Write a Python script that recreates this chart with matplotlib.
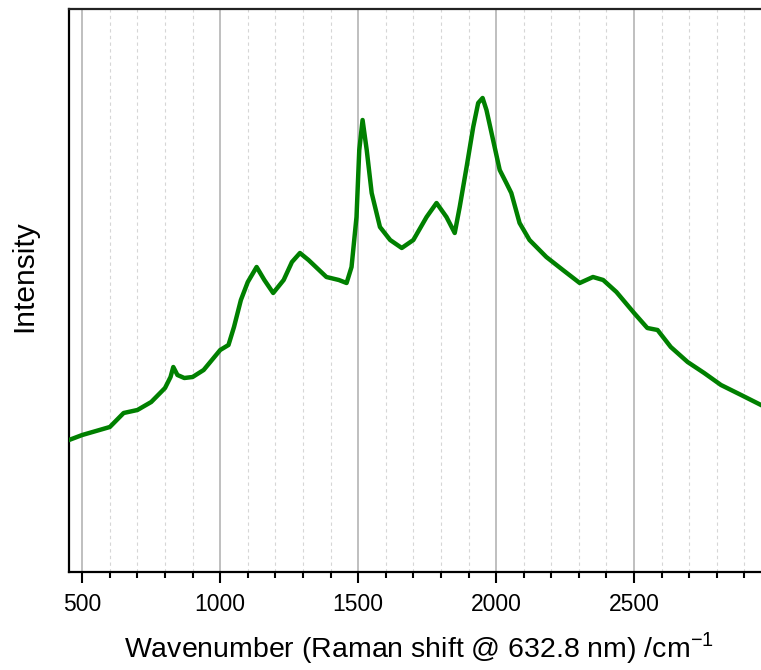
"""
raman_spectrum.py

Raman spectrum (632.8 nm excitation), intensity against wavenumber shift
"""

import matplotlib

matplotlib.use("Agg")
import matplotlib.pyplot as plt
from matplotlib.ticker import MultipleLocator, NullLocator

plt.rcParams["font.family"] = ["Liberation Sans", "DejaVu Sans"]

# wavenumber / cm^-1 and intensity (arbitrary units)
wavenumber = [
    452, 500, 550, 600, 650, 700, 750, 800, 820, 830, 845, 870, 900, 940,
    970, 1000, 1030, 1050, 1075, 1100, 1132, 1160, 1192, 1230, 1260, 1289,
    1320, 1385, 1430, 1458, 1476, 1494, 1504, 1516, 1531, 1549, 1579, 1616,
    1658, 1700, 1748, 1784, 1820, 1850, 1868, 1893, 1917, 1935, 1951, 1965,
    1989, 2013, 2037, 2055, 2085, 2121, 2182, 2242, 2303, 2351, 2388, 2436,
    2500, 2548, 2585, 2633, 2694, 2754, 2815, 2888, 2960,
]
intensity = [
    132, 137, 141, 145, 159, 162, 170, 184, 195, 205, 197, 194, 195, 202,
    212, 222, 227, 245, 272, 290, 305, 292, 279, 292, 310, 319,
    312, 295, 292, 289, 305, 355, 422, 452, 422, 379, 345, 332,
    324, 332, 355, 369, 355, 339, 365, 405, 445, 469, 474, 462,
    432, 402, 389, 379, 349, 332, 315, 302, 289, 295, 292, 280,
    259, 244, 242, 225, 210, 199, 187, 177, 167,
]

x_limits = (452, 2960)
y_limits = (0, 563)


def plot():
    fig = plt.figure(figsize=(7.61, 6.70), dpi=100)
    fig.patch.set_facecolor("white")
    ax = fig.add_axes([69 / 761, 98 / 670, 692 / 761, 563 / 670])

    ax.plot(wavenumber, intensity, color="#008000", linewidth=3.2, zorder=3)

    ax.set_xlim(*x_limits)
    ax.set_ylim(*y_limits)

    ax.xaxis.set_major_locator(MultipleLocator(500))
    ax.xaxis.set_minor_locator(MultipleLocator(100))
    ax.yaxis.set_major_locator(NullLocator())

    ax.grid(which="major", axis="x", color="#b4b4b4", linewidth=1.2, zorder=0)
    ax.grid(which="minor", axis="x", color="#d6d6d6", linewidth=0.8,
            linestyle=(0, (3, 3)), zorder=0)

    ax.tick_params(axis="x", which="major", length=8, width=1.5, pad=7,
                   labelsize=16.5, direction="out")
    ax.tick_params(axis="x", which="minor", length=4, width=1.5, direction="out")

    for side in ["left", "bottom", "top"]:
        ax.spines[side].set_linewidth(1.6)
        ax.spines[side].set_color("black")
    ax.spines["top"].set_color("#222222")
    ax.spines["right"].set_visible(False)

    ax.set_xlabel(r"Wavenumber (Raman shift @ 632.8 nm) /cm$^{\mathregular{-1}}$",
                  fontsize=20.5)
    ax.xaxis.set_label_coords(0.506, -0.135)
    ax.xaxis.label.set_va("center")

    ax.set_ylabel("Intensity", fontsize=21.5)
    ax.yaxis.set_label_coords(-0.065, 0.525)
    ax.yaxis.label.set_va("center")

    plt.savefig("out.png", dpi=100)


if __name__ == "__main__":
    plot()
